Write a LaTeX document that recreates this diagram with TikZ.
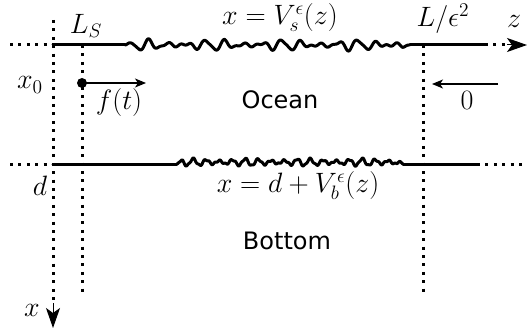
\documentclass[tikz,border=0pt]{standalone}
\usepackage{fontspec}
\setsansfont{DejaVu Sans}
\usepackage{xcolor}
\usepackage{tikz}
\usetikzlibrary{arrows.meta,positioning}

\begin{document}
\begin{tikzpicture}[
  x=1pt, y=-1pt,
  dotline/.style={line width=3pt, dash pattern=on 3pt off 5.4pt},
  wall/.style={line width=3pt, line join=round, line cap=round},
  arr/.style={-{Stealth[length=11pt, width=9pt, inset=3pt]}, line width=1.5pt},
  axtip/.style={line width=1pt, -{Stealth[length=20pt, width=14pt, inset=5pt]}},
  lbl/.style={font=\fontsize{20.74}{24}\selectfont, inner sep=0pt, scale=1.35},
  region/.style={font=\fontsize{24}{28}\selectfont\sffamily, inner sep=0pt},
]
\useasboundingbox (0,0) rectangle (528,329);

% Axes and corners
\coordinate (o)  at (53,45);
\coordinate (ol) at (10,45);
\coordinate (ot) at (53,20);
\coordinate (ob) at (53,303);
\coordinate (xt) at (53,328);
\coordinate (s1) at (125,45);
\coordinate (s2) at (410,45);
\coordinate (s3) at (485,45);
\coordinate (s4) at (507,45);
\coordinate (zt) at (527,45);

% Surface z-axis
\draw[dotline] (ol) -- (o);
\draw[wall] (o) -- (s1);
\draw[wall] plot[domain=0:285, samples=400, smooth]
  ({125+\x}, {45 - min(1,\x/8,(285-\x)/8)*(5*sin(18.95*\x)*(0.6+0.45*sin(5.07*\x))
        + 1.3*sin(33.3*\x+30))});
\draw[wall] (s2) -- (s3);
\draw[dotline] (s3) -- (s4);
\draw[axtip] (s4) -- (zt);

% Depth x-axis
\draw[dotline] (ot) -- (ob);
\draw[axtip] (ob) -- (xt);

% Bottom interface
\coordinate (bl) at (10,164);
\coordinate (b0) at (53,164);
\coordinate (b1) at (177,164);
\coordinate (b2) at (403,164);
\coordinate (b3) at (477,164);
\coordinate (br) at (527,164);
\draw[dotline] (bl) -- (b0);
\draw[wall] (b0) -- (b1);
\draw[wall] plot[domain=0:226, samples=400, smooth]
  ({177+\x}, {164 - min(1,\x/5,(226-\x)/5)*(1.8 + 3.4*sin(27.7*\x)*(0.75+0.3*sin(6.32*\x))
        + 0.8*sin(67.9*\x+50))});
\draw[wall] (b2) -- (b3);
\draw[dotline] (b3) -- (br);

% Source and receiver lines
\coordinate (v1t) at (82,45);
\coordinate (v1b) at (82,295);
\coordinate (v2t) at (423,45);
\coordinate (v2b) at (423,295);
\draw[dotline] (v1t) -- (v1b);
\draw[dotline] (v2t) -- (v2b);

% Labels
\node[lbl] (ls) at (86,26) {$L_S$};
\node[lbl] (vs) at (280,18) {$x=V_s^\epsilon(z)$};
\node[lbl] (leps) at (443,19) {$L/\epsilon^2$};
\node[lbl] (zl) at (514,21) {$z$};
\node[lbl] (x0) at (30,85) {$x_0$};
\node[lbl] (dl) at (40,186) {$d$};
\node[lbl] (vb) at (298,186) {$x=d+V_b^\epsilon(z)$};
\node[lbl] (xl) at (32,310) {$x$};

% Source with forcing
\node[circle, fill, inner sep=0pt, minimum size=10pt] (src) at (82,83) {};
\coordinate (fend) at (146,83);
\draw[arr] (src.center) -- (fend);
\node[lbl] (ft) at (119,103) {$f(t)$};

% Right end condition
\coordinate (rin) at (498,84);
\coordinate (rout) at (432,84);
\draw[arr] (rin) -- (rout);
\node[lbl] (zero) at (467,100) {$0$};

% Regions
\node[region] (ocean) at (280,100) {Ocean};
\node[region] (bottom) at (287,241) {Bottom};

\end{tikzpicture}
\end{document}
